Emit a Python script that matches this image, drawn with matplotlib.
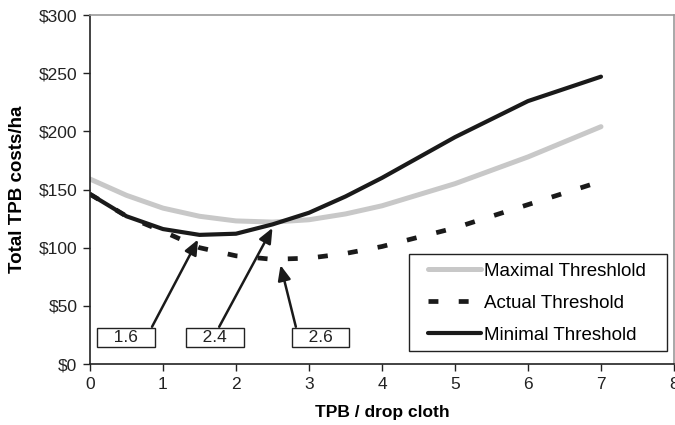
import matplotlib
matplotlib.use("Agg")
from matplotlib import pyplot as plt
from matplotlib.patches import Rectangle
from matplotlib.ticker import FuncFormatter

# TPB / drop cloth threshold vs total cost per ha
tpb = [0, 0.5, 1, 1.5, 2, 2.5, 3, 3.5, 4, 5, 6, 7]
maximal = [159, 145, 134, 127, 123, 122, 124, 129, 136, 155, 178, 204]
actual = [146, 127, 114, 100, 93, 90, 91, 95, 101, 117, 137, 157]
minimal = [146, 127, 116, 111, 112, 120, 130, 144, 160, 195, 226, 247]

# annotation labels: (text, box centre, arrow start, arrow tip)
callouts = [
    ("1.6", (0.49, 23), (0.85, 32), (1.48, 107)),
    ("2.4", (1.71, 23), (1.77, 32), (2.50, 117)),
    ("2.6", (3.16, 23), (2.82, 32), (2.61, 85)),
]

plt.rcParams["font.family"] = ["Liberation Sans", "DejaVu Sans"]
plt.rcParams["font.size"] = 12

fig = plt.figure(figsize=(6.75, 4.25), dpi=100)
ax = fig.add_axes([0.1333, 0.1435, 0.8652, 0.8212])

ax.plot(tpb, maximal, color="#c8c8c8", lw=3.6, solid_capstyle="round",
        label="Maximal Threshlold")
ax.plot(tpb, actual, color="#1a1a1a", lw=3.4, dashes=(2.1, 4.3),
        dash_capstyle="butt", label="Actual Threshold")
ax.plot(tpb, minimal, color="#1a1a1a", lw=3.0, solid_capstyle="round",
        label="Minimal Threshold")

for text, centre, start, tip in callouts:
    ax.annotate("", xy=tip, xytext=start,
                arrowprops=dict(arrowstyle="-|>,head_length=0.75,head_width=0.32",
                                color="#1a1a1a", lw=1.8, shrinkA=0, shrinkB=0))
    ax.text(centre[0], centre[1], "   " + text + "   ", ha="center", va="center",
            fontsize=12.5, color="#222222",
            bbox=dict(boxstyle="square,pad=0.12", fc="white", ec="#222222", lw=1))

ax.set_xlim(0, 8)
ax.set_ylim(0, 300)
ax.set_xticks(range(0, 9))
ax.set_yticks(range(0, 301, 50))
ax.yaxis.set_major_formatter(FuncFormatter(lambda v, p: f"${v:.0f}"))
ax.tick_params(direction="out", length=5, width=1, colors="#222222",
               labelsize=12.5, pad=4)

for side in ("left", "bottom"):
    ax.spines[side].set_color("#222222")
    ax.spines[side].set_linewidth(1.2)
for side in ("top", "right"):
    ax.spines[side].set_color("#999999")
    ax.spines[side].set_linewidth(1.2)

ax.set_xlabel("TPB / drop cloth", fontweight="bold", fontsize=12.5, labelpad=10)
ax.set_ylabel("Total TPB costs/ha", fontweight="bold", fontsize=13.5, labelpad=9)

# legend frame drawn separately so the inner padding can differ per side
ax.add_patch(Rectangle((0.546, 0.037), 0.442, 0.278, transform=ax.transAxes,
                       fc="white", ec="#222222", lw=1, zorder=4))
leg = ax.legend(loc="upper left", bbox_to_anchor=(0.579, 0.291), frameon=False,
                fontsize=13.5, handlelength=2.8, handletextpad=0.2,
                labelspacing=0.8, borderpad=0, borderaxespad=0)
leg.set_zorder(5)

fig.savefig("out.png", dpi=100)
plt.close(fig)
